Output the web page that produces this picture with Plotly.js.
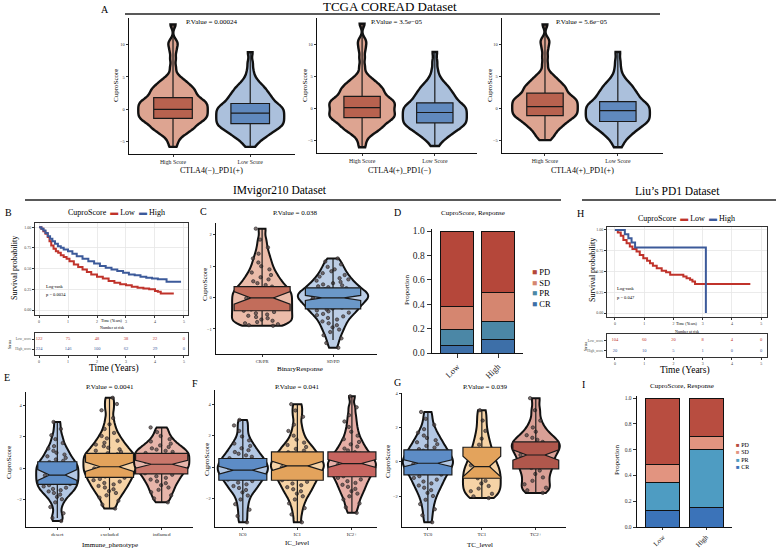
<!DOCTYPE html>
<html><head><meta charset="utf-8">
<script src="https://cdn.plot.ly/plotly-3.0.1.min.js"></script>
<style>body{margin:0;padding:0;background:#fff}#chart{width:776px;height:551px}</style>
</head><body><div id="chart"></div>
<script>
// ---------------- DATA ----------------
// Panel A (TCGA COREAD) - CuproScore samples per group
const aCats = ['High Score', 'Low Score'];
const a1High = [-5.8,-5.0,-4.4,-4.0,-3.7,-3.5,-3.3,-3.1,-2.95,-2.8,-2.65,-2.5,-2.35,-2.2,-2.05,-1.9,
  -1.8,-1.7,-1.6,-1.5,-1.4,-1.3,-1.2,-1.1,-1.0,-0.9,-0.8,-0.7,-0.6,-0.5,-0.4,-0.3,-0.2,-0.1,
  0,0.1,0.2,0.3,0.4,0.5,0.6,0.7,0.8,0.9,1.0,1.1,1.2,1.3,1.4,1.5,1.6,1.75,1.9,
  2.05,2.2,2.35,2.5,2.65,2.8,2.95,3.1,3.25,3.4,3.6,3.8,4.0,4.25,4.5,4.8,
  5.4,6.5,7.8,9.0,9.9,10.5,13.1];
const a1Low = [-5.8,-5.3,-4.8,-4.55,-4.3,-4.1,-3.9,-3.75,-3.6,-3.45,-3.3,-3.15,-3.0,-2.9,-2.8,-2.7,-2.6,
  -2.5,-2.4,-2.3,-2.2,-2.1,-2.0,-1.9,-1.8,-1.7,-1.6,-1.5,-1.4,-1.3,-1.2,-1.1,-1.0,-0.9,-0.8,-0.7,-0.6,
  -0.5,-0.4,-0.3,-0.2,-0.1,0,0.1,0.2,0.3,0.4,0.5,0.6,0.7,0.8,0.95,1.1,1.25,
  1.4,1.55,1.7,1.85,2.0,2.15,2.3,2.5,2.7,2.9,3.1,3.3,3.5,3.8,4.1,4.5,5.1,6.0,7.2,8.8];
const a2High = [-6.0,-5.1,-4.4,-4.0,-3.7,-3.5,-3.3,-3.1,-2.95,-2.8,-2.65,-2.5,-2.35,-2.2,-2.05,-1.9,
  -1.8,-1.7,-1.6,-1.5,-1.4,-1.3,-1.2,-1.1,-1.0,-0.9,-0.8,-0.7,-0.6,-0.5,-0.4,-0.3,-0.2,-0.05,
  0.05,0.15,0.25,0.35,0.45,0.55,0.65,0.75,0.85,0.95,1.05,1.15,1.25,1.35,1.45,1.55,1.65,1.8,1.95,
  2.1,2.25,2.4,2.55,2.7,2.85,3.0,3.15,3.3,3.45,3.65,3.85,4.05,4.3,4.55,4.85,
  5.5,6.6,7.9,9.1,10.0,10.7,13.2];
const a2Low = [-5.8,-5.2,-4.75,-4.5,-4.25,-4.05,-3.85,-3.7,-3.55,-3.4,-3.25,-3.1,-2.95,-2.85,-2.75,-2.65,-2.55,
  -2.45,-2.35,-2.25,-2.15,-2.05,-1.95,-1.85,-1.75,-1.65,-1.55,-1.45,-1.35,-1.25,-1.15,-1.05,-0.95,-0.85,-0.75,-0.65,-0.55,
  -0.45,-0.35,-0.25,-0.15,-0.05,0.05,0.15,0.25,0.35,0.45,0.55,0.65,0.75,0.85,1.0,1.15,1.3,
  1.45,1.6,1.75,1.9,2.05,2.2,2.35,2.55,2.75,2.95,3.15,3.35,3.55,3.85,4.15,4.55,5.15,6.05,7.3,8.8];
const a3High = [-4.9,-4.5,-4.1,-3.8,-3.5,-3.25,-3.0,-2.8,-2.6,-2.45,-2.3,-2.15,-2.0,-1.85,-1.7,-1.55,
  -1.45,-1.35,-1.25,-1.15,-1.05,-0.95,-0.85,-0.75,-0.65,-0.55,-0.45,-0.35,-0.25,-0.15,-0.05,0.05,0.15,0.25,
  0.35,0.45,0.55,0.65,0.75,0.85,0.95,1.05,1.15,1.25,1.35,1.45,1.55,1.65,1.75,1.85,1.95,2.1,2.25,
  2.4,2.55,2.7,2.85,3.0,3.15,3.3,3.45,3.6,3.75,3.95,4.15,4.4,4.65,4.9,5.2,
  5.8,6.9,8.1,9.3,10.2,10.8,13.1];
const a3Low = [-6.0,-5.4,-4.85,-4.55,-4.25,-4.0,-3.75,-3.55,-3.4,-3.25,-3.1,-2.95,-2.8,-2.65,-2.5,-2.4,-2.3,
  -2.2,-2.1,-2.0,-1.9,-1.8,-1.7,-1.6,-1.5,-1.4,-1.3,-1.2,-1.1,-1.0,-0.9,-0.8,-0.7,-0.6,-0.5,-0.4,-0.3,
  -0.2,-0.1,0,0.1,0.2,0.3,0.4,0.5,0.6,0.7,0.8,0.9,1.0,1.1,1.25,1.4,1.55,
  1.7,1.85,2.0,2.15,2.3,2.45,2.6,2.8,3.0,3.2,3.4,3.6,3.8,4.1,4.4,4.8,5.4,6.3,7.4,8.8];
// box statistics [High, Low]
const a1Q1 = [-1.4,-2.2], a1Med = [0.0,-0.6], a1Q3 = [1.8,0.9], a1Lo = [-5.8,-5.8], a1Hi = [13.1,8.8];
const a2Q1 = [-1.4,-2.2], a2Med = [0.15,-0.6], a2Q3 = [1.9,0.9], a2Lo = [-6.0,-5.8], a2Hi = [13.2,8.8];
const a3Q1 = [-1.1,-2.0], a3Med = [0.3,-0.3], a3Q3 = [2.4,1.1], a3Lo = [-4.9,-6.0], a3Hi = [13.1,8.8];
const aPvals = ['P.Value = 0.00024', 'P.Value = 3.5e\u221205', 'P.Value = 5.6e\u221205'];
const aGroups = ['CTLA4(\u2212)_PD1(+)', 'CTLA4(+)_PD1(\u2212)', 'CTLA4(+)_PD1(+)'];

// Panel B (IMvigor210 survival)
const bLowT  = [0,0.08,0.15,0.22,0.3,0.36,0.42,0.5,0.58,0.66,0.75,0.85,0.95,1.05,1.2,1.35,1.5,1.65,1.8,2.0,2.2,2.4,2.6,2.8,3.0,3.2,3.4,3.6,3.8,4.0,4.1,4.2,4.65];
const bLowS  = [1.0,0.98,0.95,0.92,0.88,0.83,0.78,0.74,0.71,0.69,0.66,0.64,0.62,0.59,0.55,0.52,0.49,0.46,0.43,0.40,0.38,0.35,0.33,0.31,0.30,0.28,0.27,0.26,0.25,0.23,0.22,0.20,0.20];
const bHighT = [0,0.08,0.15,0.22,0.3,0.38,0.46,0.55,0.65,0.75,0.85,1.0,1.15,1.3,1.5,1.7,1.9,2.1,2.3,2.5,2.7,2.9,3.1,3.3,3.5,3.7,3.9,4.1,4.3,4.4,4.9];
const bHighS = [1.0,0.98,0.96,0.93,0.89,0.86,0.83,0.80,0.77,0.75,0.73,0.71,0.68,0.65,0.62,0.59,0.56,0.53,0.51,0.49,0.47,0.45,0.43,0.42,0.40,0.39,0.38,0.37,0.37,0.34,0.34];
const riskTimes = [0,1,2,3,4,5];
const bRiskLow  = [122,75,48,38,22,0];
const bRiskHigh = [224,146,100,62,29,0];

// Panel C (BinaryResponse)
const cCats = ['CR/PR', 'SD/PD'];
const cCRPR = [-0.9,-0.88,-0.85,-0.82,-0.78,-0.74,-0.7,-0.66,-0.62,-0.58,-0.54,-0.5,-0.46,-0.42,-0.38,-0.34,-0.3,-0.26,-0.22,-0.18,-0.14,-0.1,-0.06,-0.02,0.02,0.06,0.1,0.14,0.18,0.22,0.26,0.3,0.35,0.4,0.46,0.52,0.58,0.65,0.72,0.8,0.9,1.0,1.12,1.25,1.4,1.6,1.85,2.2];
const cSDPD = [-1.6,-1.45,-1.3,-1.2,-1.1,-1.02,-0.95,-0.88,-0.82,-0.76,-0.7,-0.65,-0.6,-0.56,-0.52,-0.48,-0.44,-0.41,-0.38,-0.35,-0.32,-0.29,-0.26,-0.23,-0.2,-0.17,-0.14,-0.12,-0.09,-0.07,-0.04,-0.02,0,0.02,0.04,0.06,0.08,0.1,0.12,0.14,0.16,0.19,0.21,0.24,0.27,0.3,0.33,0.36,0.39,0.42,0.46,0.5,0.54,0.58,0.62,0.67,0.72,0.78,0.84,0.9,0.98,1.06,1.15,1.25];
const cQ1 = [-0.42,-0.36], cMed = [-0.01,-0.01], cQ3 = [0.35,0.31], cLo = [-0.9,-1.35], cHi = [2.2,1.25], cNotch = [0.2,0.08];

// Panel D (IMvigor210 response proportions)
const dCats = ['Low', 'High'];
const dCR = [0.06,0.11], dPR = [0.135,0.15], dSD = [0.185,0.24], dPD = [0.62,0.50];

// Panel H (Liu's PD1 survival)
const hLowT  = [0,0.1,0.2,0.29,0.4,0.51,0.6,0.74,0.85,0.97,1.1,1.2,1.3,1.43,1.6,1.75,1.89,2.1,2.34,2.45,2.57,2.65,2.74,4.63];
const hLowS  = [1.0,0.97,0.93,0.88,0.84,0.80,0.77,0.74,0.70,0.66,0.63,0.60,0.57,0.54,0.51,0.49,0.46,0.46,0.44,0.42,0.40,0.38,0.35,0.35];
const hHighT = [0,0.34,0.46,0.57,0.69,3.11,3.11];
const hHighS = [1.0,0.95,0.90,0.85,0.79,0.79,0.0];
const hRiskLow  = [104,60,20,8,4,0];
const hRiskHigh = [20,10,5,1,0,0];

// Panel E (Immune phenotype)
const eCats = ['desert', 'excluded', 'inflamed'];
const eDesert = [-3.4,-3.2,-2.9,-2.5,-2.2,-2.0,-1.85,-1.7,-1.6,-1.5,-1.42,-1.34,-1.26,-1.18,-1.1,-1.03,-0.96,-0.89,-0.82,-0.75,-0.68,-0.61,-0.54,-0.47,-0.4,-0.33,-0.26,-0.19,-0.12,-0.05,0.02,0.09,0.16,0.23,0.3,0.38,0.46,0.55,0.65,0.75,0.86,0.98,1.1,1.25,1.4,1.6,1.85,2.1,2.5,2.95];
const eExcluded = [-2.6,-2.35,-2.1,-1.9,-1.75,-1.6,-1.48,-1.36,-1.25,-1.15,-1.05,-0.96,-0.87,-0.78,-0.7,-0.62,-0.54,-0.46,-0.38,-0.31,-0.24,-0.17,-0.1,-0.03,0.04,0.11,0.18,0.25,0.32,0.39,0.46,0.53,0.6,0.67,0.74,0.81,0.88,0.95,1.03,1.11,1.2,1.3,1.4,1.5,1.62,1.75,1.9,2.05,2.25,2.5,2.8,3.2,3.7,4.1,4.5];
const eInflamed = [-2.2,-1.95,-1.75,-1.55,-1.4,-1.25,-1.1,-0.97,-0.85,-0.74,-0.63,-0.53,-0.43,-0.34,-0.25,-0.17,-0.09,-0.02,0.05,0.12,0.19,0.26,0.33,0.4,0.47,0.54,0.61,0.68,0.75,0.82,0.89,0.96,1.03,1.1,1.18,1.26,1.35,1.45,1.56,1.7,1.85,2.05,2.3,2.6];
const eQ1 = [-1.05,-0.6,-0.38], eMed = [-0.45,0.08,0.24], eQ3 = [0.4,0.94,0.94], eLo = [-3.2,-2.6,-2.2], eHi = [2.95,4.5,2.6], eNotch = [0.35,0.3,0.25];

// Panel F (IC level)
const fCats = ['IC0', 'IC1', 'IC2+'];
const fIC0 = [-3.5,-3.1,-2.7,-2.35,-2.05,-1.8,-1.6,-1.45,-1.32,-1.2,-1.09,-0.98,-0.88,-0.79,-0.7,-0.62,-0.54,-0.46,-0.38,-0.31,-0.24,-0.17,-0.1,-0.03,0.04,0.11,0.18,0.25,0.33,0.41,0.49,0.57,0.66,0.75,0.85,0.96,1.08,1.2,1.35,1.5,1.7,1.95,2.3,2.65,3.0];
const fIC1 = [-3.5,-3.0,-2.6,-2.3,-2.05,-1.85,-1.68,-1.53,-1.4,-1.27,-1.15,-1.04,-0.93,-0.83,-0.73,-0.64,-0.55,-0.46,-0.38,-0.3,-0.22,-0.14,-0.07,0,0.07,0.14,0.21,0.28,0.35,0.43,0.51,0.59,0.67,0.76,0.85,0.95,1.05,1.16,1.28,1.41,1.56,1.75,2.0,2.3,2.7,3.2,3.6,4.0];
const fIC2 = [-2.9,-2.55,-2.3,-2.05,-1.85,-1.68,-1.52,-1.38,-1.25,-1.12,-1.0,-0.89,-0.78,-0.68,-0.58,-0.49,-0.4,-0.31,-0.23,-0.15,-0.07,0,0.07,0.14,0.21,0.28,0.35,0.43,0.51,0.59,0.67,0.76,0.85,0.95,1.06,1.18,1.31,1.45,1.6,1.78,2.0,2.25,2.55,2.9,3.3,3.8,4.5];
const fQ1 = [-0.83,-0.83,-0.61], fMed = [-0.19,0.08,0.23], fQ3 = [0.55,0.97,0.97], fLo = [-3.5,-3.5,-2.9], fHi = [3.0,4.0,4.5], fNotch = [0.25,0.3,0.25];

// Panel G (TC level)
const gCats = ['TC0', 'TC1', 'TC2+'];
const gTC0 = [-3.5,-3.1,-2.75,-2.45,-2.2,-1.98,-1.8,-1.64,-1.5,-1.37,-1.25,-1.14,-1.03,-0.93,-0.83,-0.74,-0.65,-0.57,-0.49,-0.41,-0.34,-0.27,-0.2,-0.13,-0.06,0,0.06,0.13,0.2,0.27,0.34,0.41,0.49,0.57,0.65,0.74,0.83,0.93,1.03,1.14,1.26,1.39,1.53,1.7,1.9,2.15,2.5,2.9];
const gTC1 = [-2.1,-2.0,-1.85,-1.7,-1.55,-1.4,-1.25,-1.1,-0.95,-0.8,-0.65,-0.5,-0.35,-0.2,0,0.2,0.45,0.7,1.0,1.35,1.8,2.4,3.0];
const gTC2 = [-1.8,-1.65,-1.5,-1.3,-1.1,-0.9,-0.7,-0.5,-0.35,-0.2,-0.05,0.1,0.25,0.4,0.52,0.64,0.76,0.86,0.96,1.06,1.16,1.28,1.4,1.55,1.75,2.0,2.4,3.0,3.7];
const gQ1 = [-0.75,-0.95,-0.4], gMed = [-0.08,-0.27,0.4], gQ3 = [0.7,0.85,1.16], gLo = [-3.5,-2.1,-1.8], gHi = [2.9,3.0,3.7], gNotch = [0.2,0.6,0.3];

// Panel I (Liu's response proportions)
const iCats = ['Low', 'High'];
const iCR = [0.13,0.15], iPR = [0.215,0.45], iSD = [0.14,0.10], iPD = [0.515,0.30];

// ---------------- HELPERS ----------------
const W = 776, H = 551;
const FONT = '"Liberation Serif", "DejaVu Serif", serif';
const TXT = '#000000';
const px = x => x / W, py = y => 1 - y / H;
const xd = (a, b) => [a / W, b / W];
const yd = (t, b) => [1 - b / H, 1 - t / H];
const traces = [];
const annotations = [];
const shapes = [];
const layout = {
  width: W, height: H, margin: {l: 0, r: 0, t: 0, b: 0},
  paper_bgcolor: '#fff', plot_bgcolor: 'rgba(0,0,0,0)',
  showlegend: false, violinmode: 'overlay', boxmode: 'overlay', barmode: 'stack',
  font: {family: FONT, color: TXT}
};
const axId = n => (n === 1 ? '' : String(n));

function ann(text, x, y, size, extra) {
  annotations.push(Object.assign({
    text: text, x: px(x), y: py(y), xref: 'paper', yref: 'paper', showarrow: false,
    font: {family: FONT, size: size, color: TXT}, xanchor: 'center', yanchor: 'middle'
  }, extra || {}));
}
function hline(x0, x1, y) {
  shapes.push({type: 'line', xref: 'paper', yref: 'paper', x0: px(x0), x1: px(x1), y0: py(y), y1: py(y), line: {color: '#222', width: 1.4}});
}
function catAxis(dom, range, anchor, fs) {
  return {domain: dom, range: range, anchor: anchor, type: 'category', showline: true, linecolor: '#111', linewidth: 1.4,
    ticks: 'outside', ticklen: 2, tickcolor: '#333', tickfont: {family: FONT, size: fs, color: '#222'},
    showgrid: false, zeroline: false, fixedrange: true};
}
function valAxis(dom, range, anchor, tickvals, fs) {
  return {domain: dom, range: range, anchor: anchor, showline: true, linecolor: '#111', linewidth: 1.4,
    ticks: 'outside', ticklen: 2, tickcolor: '#333', tickvals: tickvals, tickfont: {family: FONT, size: fs, color: '#333'},
    showgrid: false, zeroline: false, fixedrange: true};
}
function setAxes(n, xa, ya) {
  layout['xaxis' + axId(n)] = xa;
  layout['yaxis' + axId(n)] = ya;
}
function violinGroup(n, cats, samples, st, o) {
  const xa = 'x' + axId(n), ya = 'y' + axId(n);
  cats.forEach((c, i) => {
    traces.push({type: 'violin', x: samples[i].map(() => c), y: samples[i], xaxis: xa, yaxis: ya,
      spanmode: 'hard', bandwidth: o.bw[i], width: o.vw[i], scalemode: 'width', fillcolor: o.vFill[i],
      line: {color: '#111', width: o.lw}, points: false, hoverinfo: 'skip', showlegend: false,
      box: {visible: false}, meanline: {visible: false}});
    const b = {type: 'box', x: [c], q1: [st.q1[i]], median: [st.med[i]], q3: [st.q3[i]],
      lowerfence: [st.lo[i]], upperfence: [st.hi[i]], width: o.bw2[i], whiskerwidth: 0,
      fillcolor: o.bFill[i], line: {color: '#1a1a1a', width: o.blw}, boxpoints: false,
      xaxis: xa, yaxis: ya, hoverinfo: 'skip', showlegend: false};
    if (st.notch) { b.notched = true; b.notchspan = [st.notch[i]]; b.notchwidth = 0.3; }
    traces.push(b);
    if (o.points) {
      traces.push({type: 'violin', x: samples[i].map(() => c), y: samples[i], xaxis: xa, yaxis: ya,
        spanmode: 'hard', bandwidth: o.bw[i], width: o.vw[i], scalemode: 'width',
        fillcolor: 'rgba(0,0,0,0)', line: {color: 'rgba(0,0,0,0)', width: 0},
        points: 'all', jitter: 0.7, pointpos: 0,
        marker: {size: 3.4, color: 'rgba(85,70,70,0.75)', line: {width: 0.6, color: '#222'}},
        hoverinfo: 'skip', showlegend: false, box: {visible: false}});
    }
  });
}

// ---------------- PANEL A ----------------
const aFillV = ['#dda491', '#abc0dc'], aFillB = ['#b8624f', '#6089be'];
const aPanels = [
  {n: 1, x: [129, 295], y: [18, 154], r: [-0.57, 1.58], s: [a1High, a1Low], st: {q1: a1Q1, med: a1Med, q3: a1Q3, lo: a1Lo, hi: a1Hi}, yl: 116, pv: 212, xl: 212},
  {n: 2, x: [317, 477], y: [18, 153], r: [-0.62, 1.58], s: [a2High, a2Low], st: {q1: a2Q1, med: a2Med, q3: a2Q3, lo: a2Lo, hi: a2Hi}, yl: 305, pv: 397, xl: 400},
  {n: 3, x: [502, 663], y: [18, 153], r: [-0.59, 1.62], s: [a3High, a3Low], st: {q1: a3Q1, med: a3Med, q3: a3Q3, lo: a3Lo, hi: a3Hi}, yl: 490, pv: 582, xl: 582}
];
aPanels.forEach((p, k) => {
  const xa = catAxis(xd(p.x[0], p.x[1]), p.r, 'y' + axId(p.n), 5.8);
  const ya = valAxis(yd(p.y[0], p.y[1]), [-6.9, 14.1], 'x' + axId(p.n), [-5, 0, 5, 10], 4.5);
  ya.ticktext = ['\u22125', '0', '5', '10'];
  setAxes(p.n, xa, ya);
  violinGroup(p.n, aCats, p.s, p.st, {bw: [0.55, 0.6], vw: [0.9, 0.88], bw2: [0.5, 0.5], vFill: aFillV, bFill: aFillB, lw: 2.4, blw: 1.2, points: false});
  ann('CuproScore', p.yl, 86, 7, {textangle: -90});
  ann(aPvals[k], p.pv, 22, 7);
  ann(aGroups[k], p.xl, 170.5, 8);
});
ann('TCGA COREAD Dataset', 390, 7, 13);
ann('A', 105, 10, 10);
hline(125, 660, 14);

// ---------------- HEADERS ROW 2 ----------------
ann('IMvigor210 Dataset', 280, 191, 11.5);
hline(25, 561, 200);
ann('Liu\u2019s PD1 Dataset', 677, 191, 11.5);
hline(582, 776, 200);

// ---------------- SURVIVAL helper ----------------
const LOWC = '#c0332b', HIGHC = '#3c5a9a';
function survPanel(nS, nR, xr, yS, yR, xrange, yrange, lowT, lowS, highT, highS, riskL, riskH) {
  const gridAx = (dom, range, anchor, tv, tt) => ({domain: dom, range: range, anchor: anchor, showline: true, mirror: true,
    linecolor: '#333', linewidth: 1, ticks: 'outside', ticklen: 2, tickcolor: '#333', tickvals: tv, ticktext: tt,
    tickfont: {family: FONT, size: 4, color: '#444'}, showgrid: true, gridcolor: '#e6e6e6', gridwidth: 0.8,
    zeroline: false, fixedrange: true});
  setAxes(nS, gridAx(xd(xr[0], xr[1]), xrange, 'y' + axId(nS), riskTimes),
    gridAx(yd(yS[0], yS[1]), yrange, 'x' + axId(nS), [0, 0.25, 0.5, 0.75, 1], ['0.00', '0.25', '0.50', '0.75', '1.00']));
  const rx = gridAx(xd(xr[0], xr[1]), xrange, 'y' + axId(nR), riskTimes);
  const ry = gridAx(yd(yR[0], yR[1]), [-0.6, 1.6], 'x' + axId(nR), [0, 1], ['High_score', 'Low_score']);
  rx.showgrid = false; ry.showgrid = false; ry.tickfont = {family: FONT, size: 3.5, color: '#555'};
  setAxes(nR, rx, ry);
  traces.push({type: 'scatter', mode: 'lines', x: lowT, y: lowS, line: {shape: 'hv', color: LOWC, width: 2},
    xaxis: 'x' + axId(nS), yaxis: 'y' + axId(nS), hoverinfo: 'skip', showlegend: false});
  traces.push({type: 'scatter', mode: 'lines', x: highT, y: highS, line: {shape: 'hv', color: HIGHC, width: 2},
    xaxis: 'x' + axId(nS), yaxis: 'y' + axId(nS), hoverinfo: 'skip', showlegend: false});
  traces.push({type: 'scatter', mode: 'text', x: riskTimes, y: riskTimes.map(() => 1), text: riskL.map(String),
    textfont: {family: FONT, size: 4.5, color: LOWC}, xaxis: 'x' + axId(nR), yaxis: 'y' + axId(nR), hoverinfo: 'skip', showlegend: false});
  traces.push({type: 'scatter', mode: 'text', x: riskTimes, y: riskTimes.map(() => 0), text: riskH.map(String),
    textfont: {family: FONT, size: 4.5, color: HIGHC}, xaxis: 'x' + axId(nR), yaxis: 'y' + axId(nR), hoverinfo: 'skip', showlegend: false});
}
const legendTxt = 'CuproScore  <span style="color:' + LOWC + '">\u25AC</span> Low  <span style="color:' + HIGHC + '">\u25AC</span> High';

// ---------------- PANEL B ----------------
survPanel(4, 5, [35, 188], [223, 315], [333, 355], [-0.14, 5.14], [-0.06, 1.05], bLowT, bLowS, bHighT, bHighS, bRiskLow, bRiskHigh);
ann('B', 8, 212, 10);
ann(legendTxt, 116, 212, 8);
ann('Survival probability', 14, 268, 8, {textangle: -90});
ann('Log-rank', 44, 286, 4.5, {xanchor: 'left'});
ann('p = 0.0034', 44, 294, 4.5, {xanchor: 'left'});
ann('Time (Years)', 112, 320, 4);
ann('Number at risk', 112, 327, 4);
ann('Strata', 9, 344, 4, {textangle: -90});
ann('Time (Years)', 114, 368, 9.5);

// ---------------- PANEL C ----------------
setAxes(6, catAxis(xd(216, 377), [-0.65, 1.62], 'y6', 4.5),
  valAxis(yd(223, 354), [-1.8, 2.38], 'x6', [-1, 0, 1, 2], 4.5));
layout.yaxis6.ticktext = ['\u22121', '0', '1', '2'];
violinGroup(6, cCats, [cCRPR, cSDPD], {q1: cQ1, med: cMed, q3: cQ3, lo: cLo, hi: cHi, notch: cNotch},
  {bw: [0.15, 0.15], vw: [0.85, 0.99], bw2: [0.79, 0.78], vFill: ['#ebbcaa', '#bccee6'], bFill: ['#c26d5b', '#6b98c8'], lw: 2, blw: 1.2, points: true});
ann('C', 203, 211, 10);
ann('P.Value = 0.038', 295, 213, 7);
ann('CuproScore', 205, 285, 7, {textangle: -90});
ann('BinaryResponse', 300, 369, 7);

// ---------------- PANEL D ----------------
const DCOL = {PD: '#b5473a', SD: '#d58670', PR: '#4b87a6', CR: '#3d6fa8'};
setAxes(7, catAxis(xd(432, 523), [-0.61, 1.61], 'y7', 8.5),
  valAxis(yd(229, 353), [0, 1.0164], 'x7', [0, 0.2, 0.4, 0.6, 0.8, 1.0], 9.5));
layout.xaxis7.tickangle = -45; layout.xaxis7.ticklen = 4;
layout.yaxis7.ticktext = ['0.0', '0.2', '0.4', '0.6', '0.8', '1.0']; layout.yaxis7.ticklen = 4;
layout.yaxis7.tickfont.color = '#222';
[['CR', dCR], ['PR', dPR], ['SD', dSD], ['PD', dPD]].forEach(([k, v]) => {
  traces.push({type: 'bar', x: dCats, y: v, name: k, marker: {color: DCOL[k], line: {color: '#111', width: 1}}, width: 0.8,
    xaxis: 'x7', yaxis: 'y7', hoverinfo: 'skip', showlegend: false});
});
ann('D', 398, 212, 10);
ann('CuproScore, Response', 473, 213, 7);
ann('Proportion', 407, 290, 7, {textangle: -90});
['PD', 'SD', 'PR', 'CR'].forEach((k, i) => {
  ann('<span style="color:' + DCOL[k] + '">\u25A0</span> ' + k, 530, 272 + i * 10.5, 8.5, {xanchor: 'left'});
});

// ---------------- PANEL H ----------------
survPanel(8, 9, [607, 767], [227, 317], [334, 357], [-0.27, 5.2], [-0.048, 1.036], hLowT, hLowS, hHighT, hHighS, hRiskLow, hRiskHigh);
ann('H', 580, 213, 10);
ann(legendTxt, 686, 218, 8);
ann('Survival probability', 592, 270, 8, {textangle: -90});
ann('Log-rank', 615, 288, 4.5, {xanchor: 'left'});
ann('p = 0.047', 615, 297, 4.5, {xanchor: 'left'});
ann('Time (Years)', 687, 323, 4);
ann('Number at risk', 687, 331, 4);
ann('Strata', 586, 346, 4, {textangle: -90});
ann('Time (Years)', 685, 370, 9.5);

// ---------------- PANEL E ----------------
const BLUEV = '#b3c7e3', BLUEB = '#5d8cc6', ORV = '#f6d3a6', ORB = '#e3a35c';
setAxes(10, catAxis(xd(26, 193), [-0.6, 2.6], 'y10', 5),
  valAxis(yd(392, 527), [-3.78, 4.87], 'x10', [-2, 0, 2, 4], 4.5));
layout.yaxis10.ticktext = ['\u22122', '0', '2', '4'];
violinGroup(10, eCats, [eDesert, eExcluded, eInflamed], {q1: eQ1, med: eMed, q3: eQ3, lo: eLo, hi: eHi, notch: eNotch},
  {bw: [0.25, 0.25, 0.22], vw: [0.81, 1.0, 1.06], bw2: [0.75, 0.92, 1.0], vFill: [BLUEV, ORV, '#e7b5aa'], bFill: [BLUEB, ORB, '#c9776b'], lw: 2, blw: 1.2, points: true});
ann('E', 7, 377, 10);
ann('P.Value = 0.0041', 110, 387, 7);
ann('CuproScore', 9, 463, 7, {textangle: -90});
ann('Immune_phenotype', 110, 545, 7);

// ---------------- PANEL F ----------------
setAxes(11, catAxis(xd(215, 377), [-0.51, 2.46], 'y11', 5),
  valAxis(yd(390, 527), [-3.8, 4.9], 'x11', [-2, 0, 2, 4], 4.5));
layout.yaxis11.ticktext = ['\u22122', '0', '2', '4'];
violinGroup(11, fCats, [fIC0, fIC1, fIC2], {q1: fQ1, med: fMed, q3: fQ3, lo: fLo, hi: fHi, notch: fNotch},
  {bw: [0.25, 0.25, 0.25], vw: [0.92, 0.97, 0.88], bw2: [0.88, 0.95, 0.88], vFill: [BLUEV, ORV, '#e6aea6'], bFill: [BLUEB, ORB, '#c7645f'], lw: 2, blw: 1.2, points: true});
ann('F', 195, 383, 10);
ann('P.Value = 0.041', 297, 387, 7);
ann('CuproScore', 207, 460, 7, {textangle: -90});
ann('IC_level', 297, 543, 7);

// ---------------- PANEL G ----------------
setAxes(12, catAxis(xd(402, 566), [-0.48, 2.56], 'y12', 5),
  valAxis(yd(393, 527), [-3.78, 4.0], 'x12', [-2, 0, 2, 4], 4.5));
layout.yaxis12.ticktext = ['\u22122', '0', '2', '4'];
violinGroup(12, gCats, [gTC0, gTC1, gTC2], {q1: gQ1, med: gMed, q3: gQ3, lo: gLo, hi: gHi, notch: gNotch},
  {bw: [0.25, 0.4, 0.3], vw: [0.93, 0.7, 0.89], bw2: [0.89, 0.7, 0.85], vFill: [BLUEV, ORV, '#d9a096'], bFill: [BLUEB, ORB, '#b0574c'], lw: 2, blw: 1.2, points: true});
ann('G', 398, 382, 10);
ann('P.Value = 0.039', 485, 387, 7);
ann('CuproScore', 388, 462, 7, {textangle: -90});
ann('TC_level', 480, 545, 7);

// ---------------- PANEL I ----------------
const ICOL = {PD: '#b84d40', SD: '#e29480', PR: '#4e9cc2', CR: '#3b73b9'};
setAxes(13, catAxis(xd(637, 732), [-0.6, 1.6], 'y13', 7),
  valAxis(yd(396, 527), [0, 1.0155], 'x13', [0, 0.2, 0.4, 0.6, 0.8, 1.0], 5.5));
layout.xaxis13.tickangle = -45; layout.xaxis13.ticklen = 2;
layout.yaxis13.ticktext = ['0.0', '0.2', '0.4', '0.6', '0.8', '1.0']; layout.yaxis13.ticklen = 3;
[['CR', iCR], ['PR', iPR], ['SD', iSD], ['PD', iPD]].forEach(([k, v]) => {
  traces.push({type: 'bar', x: iCats, y: v, name: k, marker: {color: ICOL[k], line: {color: '#111', width: 1}}, width: 0.79,
    xaxis: 'x13', yaxis: 'y13', hoverinfo: 'skip', showlegend: false});
});
ann('I', 583, 384, 10);
ann('CuproScore, Response', 682, 386, 7);
ann('Proportion', 617, 460, 7, {textangle: -90});
['PD', 'SD', 'PR', 'CR'].forEach((k, i) => {
  ann('<span style="color:' + ICOL[k] + '">\u25A0</span> ' + k, 734, 445 + i * 7.4, 6, {xanchor: 'left'});
});

layout.annotations = annotations;
layout.shapes = shapes;
Plotly.newPlot('chart', traces, layout, {staticPlot: true, displayModeBar: false});
</script></body></html>
